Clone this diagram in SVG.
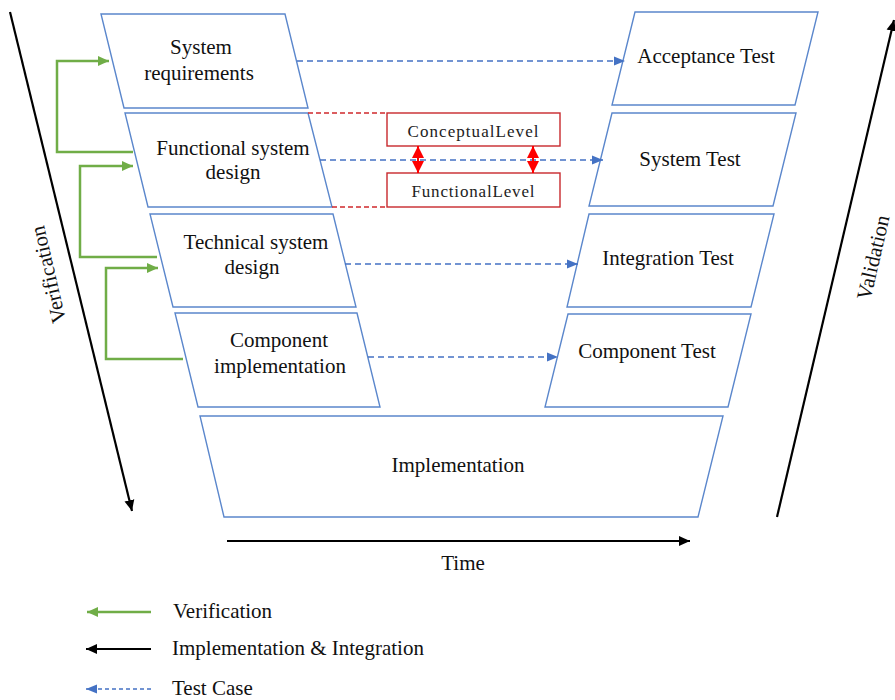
<svg xmlns="http://www.w3.org/2000/svg" width="895" height="700" viewBox="0 0 895 700">
<style>
.box{fill:#fff;stroke:#5B87CC;stroke-width:1.4}
.t{font-family:"Liberation Serif","Times New Roman",serif;font-size:21px;fill:#111;text-anchor:middle}
.tl{font-family:"Liberation Serif","Times New Roman",serif;font-size:21px;fill:#111}
.rbox{fill:#fff;stroke:#C8282D;stroke-width:1.4}
.rt{font-family:"Liberation Serif","Times New Roman",serif;font-size:17px;fill:#222;text-anchor:middle}
.green{fill:none;stroke:#70AD47;stroke-width:2.5}
.blue{fill:none;stroke:#4472C4;stroke-width:1.3;stroke-dasharray:6 4}
.reddash{fill:none;stroke:#D0282D;stroke-width:1.3;stroke-dasharray:5 3}
.redarr{fill:none;stroke:#FF0000;stroke-width:2}
.black{fill:none;stroke:#000;stroke-width:2.2}
</style>
<defs>
<marker id="mg" markerUnits="userSpaceOnUse" markerWidth="12" markerHeight="12" refX="11" refY="6" orient="auto"><path d="M0,1 L11,6 L0,11 Z" fill="#70AD47"/></marker>
<marker id="mb" markerUnits="userSpaceOnUse" markerWidth="12" markerHeight="12" refX="11" refY="6" orient="auto"><path d="M0,1.5 L11,6 L0,10.5 Z" fill="#4472C4"/></marker>
<marker id="mk" markerUnits="userSpaceOnUse" markerWidth="12" markerHeight="12" refX="11" refY="6" orient="auto"><path d="M0,1 L11,6 L0,11 Z" fill="#000"/></marker>
<marker id="mr" markerUnits="userSpaceOnUse" markerWidth="14" markerHeight="14" refX="12" refY="7" orient="auto-start-reverse"><path d="M0,1 L12,7 L0,13 Z" fill="#FF0000"/></marker>
</defs>

<g id="verification-axis">
<line x1="10" y1="12" x2="132" y2="511" class="black" marker-end="url(#mk)"/>
<text class="t" transform="translate(55,273) rotate(-103)">Verification</text>
</g>
<g id="validation-axis">
<line x1="777" y1="517" x2="894" y2="20" class="black" marker-end="url(#mk)"/>
<text class="t" transform="translate(880,259) rotate(-77)">Validation</text>
</g>

<g id="system-requirements">
<polygon class="box" points="101,14 285,14 308,108 124,108"/>
<text class="t" x="201" y="54">System</text>
<text class="t" x="199" y="80">requirements</text>
</g>
<g id="functional-system-design">
<polygon class="box" points="125,113 308,113 332,207 148,207"/>
<text class="t" x="233" y="155">Functional system</text>
<text class="t" x="233" y="179">design</text>
</g>
<g id="technical-system-design">
<polygon class="box" points="150,214 333,214 356,307 173,307"/>
<text class="t" x="256" y="249">Technical system</text>
<text class="t" x="252" y="274">design</text>
</g>
<g id="component-implementation">
<polygon class="box" points="175,313 357,313 380,407 198,407"/>
<text class="t" x="279" y="347">Component</text>
<text class="t" x="280" y="373">implementation</text>
</g>
<g id="implementation">
<polygon class="box" points="200,416 723,416 698,517 224,517"/>
<text class="t" x="458" y="472">Implementation</text>
</g>

<g id="acceptance-test">
<polygon class="box" points="635,12 818,12 795,105 612,105"/>
<text class="t" x="706" y="63">Acceptance Test</text>
</g>
<g id="system-test">
<polygon class="box" points="612,113 796,113 773,206 589,206"/>
<text class="t" x="690" y="166">System Test</text>
</g>
<g id="integration-test">
<polygon class="box" points="589,214 774,214 751,307 567,307"/>
<text class="t" x="668" y="265">Integration Test</text>
</g>
<g id="component-test">
<polygon class="box" points="568,314 751,314 728,407 545,407"/>
<text class="t" x="647" y="358">Component Test</text>
</g>

<g id="conceptual-level">
<rect class="rbox" x="387" y="113" width="173" height="33"/>
<text class="rt" x="473" y="137" textLength="131" lengthAdjust="spacing">ConceptualLevel</text>
</g>
<g id="functional-level">
<rect class="rbox" x="387" y="173" width="173" height="34"/>
<text class="rt" x="473" y="197" textLength="123" lengthAdjust="spacing">FunctionalLevel</text>
</g>

<g id="connectors">
<polyline class="green" points="133,152 57,152 57,61 109,61" marker-end="url(#mg)"/>
<polyline class="green" points="157,257 80,257 80,166 133,166" marker-end="url(#mg)"/>
<polyline class="green" points="183,359 106,359 106,268 158,268" marker-end="url(#mg)"/>
<line class="blue" x1="297" y1="61" x2="625" y2="61" marker-end="url(#mb)"/>
<line class="blue" x1="320" y1="160" x2="603" y2="160" marker-end="url(#mb)"/>
<line class="blue" x1="345" y1="264" x2="578" y2="264" marker-end="url(#mb)"/>
<line class="blue" x1="368" y1="357" x2="558" y2="357" marker-end="url(#mb)"/>
<line class="reddash" x1="308" y1="113" x2="387" y2="113"/>
<line class="reddash" x1="332" y1="207" x2="387" y2="207"/>
<line class="redarr" x1="418" y1="146" x2="418" y2="173" marker-start="url(#mr)" marker-end="url(#mr)"/>
<line class="redarr" x1="533" y1="146" x2="533" y2="173" marker-start="url(#mr)" marker-end="url(#mr)"/>
<line class="black" x1="227" y1="541" x2="690" y2="541" marker-end="url(#mk)"/>
</g>
<text class="t" x="463" y="570">Time</text>

<g id="legend">
<line class="green" x1="151" y1="612" x2="87" y2="612" marker-end="url(#mg)"/>
<text class="tl" x="173" y="618">Verification</text>
<line class="black" x1="151" y1="649" x2="86" y2="649" marker-end="url(#mk)"/>
<text class="tl" x="172" y="655">Implementation &amp; Integration</text>
<line x1="151" y1="689" x2="86" y2="689" stroke="#4472C4" stroke-width="1.3" stroke-dasharray="4 3" marker-end="url(#mb)"/>
<text class="tl" x="172" y="695">Test Case</text>
</g>
</svg>
